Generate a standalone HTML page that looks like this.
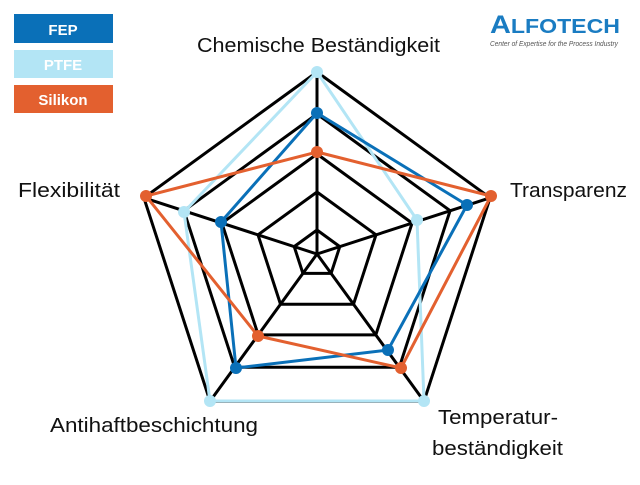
<!DOCTYPE html>
<html><head><meta charset="utf-8"><style>
body{margin:0;width:640px;height:480px;background:#fff;overflow:hidden;font-family:"Liberation Sans",sans-serif}
</style></head><body>
<svg width="640" height="480" viewBox="0 0 640 480" xmlns="http://www.w3.org/2000/svg">
<rect x="14" y="14" width="99" height="29" fill="#0a70b8"/>
<rect x="14" y="50" width="99" height="28" fill="#b3e5f5"/>
<rect x="14" y="85" width="99" height="28" fill="#e3602f"/>
<g font-family="Liberation Sans, sans-serif" font-weight="bold" font-size="15" fill="#fff" text-anchor="middle">
<text x="63" y="35">FEP</text><text x="63" y="70">PTFE</text><text x="63" y="105">Silikon</text></g>
<g fill="none" stroke="#000" stroke-width="3" stroke-linejoin="miter">
<polygon points="317,72 490.1,197.8 424,401.2 210,401.2 143.9,197.8"/>
<polygon points="317,114 450.1,210.7 399.3,367.3 234.7,367.3 183.9,210.7"/>
<polygon points="317,154 412.1,223.1 375.8,334.9 258.2,334.9 221.9,223.1"/>
<polygon points="317,192 376,234.8 353.5,304.2 280.5,304.2 258,234.8"/>
<polygon points="317,230 339.8,246.6 331.1,273.4 302.9,273.4 294.2,246.6"/>
<path d="M317,254L317,72M317,254L490.1,197.8M317,254L424,401.2M317,254L210,401.2M317,254L143.9,197.8"/>
</g>
<g fill="none" stroke-width="3">
<polygon points="317,72 417,220 424,401 210,401 184,212" stroke="#b3e5f5"/>
<polygon points="317,113 467,205 388,350 236,368 221,222" stroke="#0a70b8"/>
<polygon points="317,152 491,196 401,368 258,336 146,196" stroke="#e3602f"/>
</g>
<g fill="#b3e5f5"><circle cx="317" cy="72" r="6"/><circle cx="417" cy="220" r="6"/><circle cx="424" cy="401" r="6"/><circle cx="210" cy="401" r="6"/><circle cx="184" cy="212" r="6"/></g>
<g fill="#0a70b8"><circle cx="317" cy="113" r="6"/><circle cx="467" cy="205" r="6"/><circle cx="388" cy="350" r="6"/><circle cx="236" cy="368" r="6"/><circle cx="221" cy="222" r="6"/></g>
<g fill="#e3602f"><circle cx="317" cy="152" r="6"/><circle cx="491" cy="196" r="6"/><circle cx="401" cy="368" r="6"/><circle cx="258" cy="336" r="6"/><circle cx="146" cy="196" r="6"/></g>
<g font-family="Liberation Sans, sans-serif" font-size="20" fill="#111" lengthAdjust="spacingAndGlyphs">
<text x="197" y="52" textLength="243" lengthAdjust="spacingAndGlyphs">Chemische Beständigkeit</text>
<text x="510" y="197" textLength="117" lengthAdjust="spacingAndGlyphs">Transparenz</text>
<text x="18" y="197" textLength="102" lengthAdjust="spacingAndGlyphs">Flexibilität</text>
<text x="50" y="432" textLength="208" lengthAdjust="spacingAndGlyphs">Antihaftbeschichtung</text>
<text x="438" y="424" textLength="120" lengthAdjust="spacingAndGlyphs">Temperatur-</text>
<text x="432" y="455" textLength="131" lengthAdjust="spacingAndGlyphs">beständigkeit</text>
</g>
<text x="490" y="33" font-family="Liberation Sans, sans-serif" font-weight="bold" font-size="25" fill="#1a7cc2" textLength="130" lengthAdjust="spacingAndGlyphs">A<tspan font-size="20">LFOTECH</tspan></text>
<text x="490" y="46" font-family="Liberation Sans, sans-serif" font-style="italic" font-size="7" fill="#555" textLength="128" lengthAdjust="spacingAndGlyphs">Center of Expertise for the Process Industry</text>
</svg>
</body></html>
